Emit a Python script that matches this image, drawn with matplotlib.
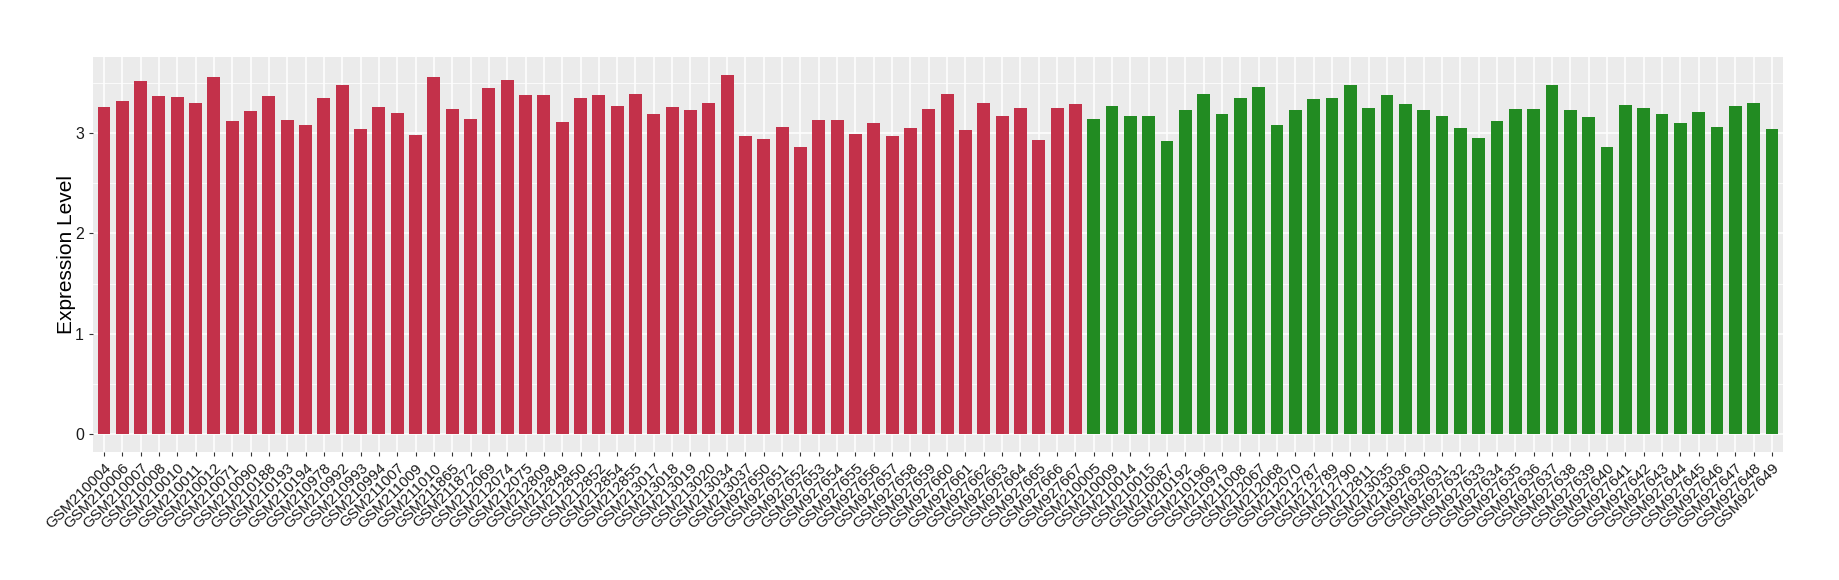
import numpy as np
import matplotlib.pyplot as plt

plt.rcParams['font.family'] = ['Liberation Sans', 'DejaVu Sans']

# Samples (first group red, second group green)
group1_samples = [
    'GSM210004', 'GSM210006', 'GSM210007', 'GSM210008', 'GSM210010', 'GSM210011',
    'GSM210012', 'GSM210071', 'GSM210090', 'GSM210188', 'GSM210193', 'GSM210194',
    'GSM210978', 'GSM210992', 'GSM210993', 'GSM210994', 'GSM211007', 'GSM211009',
    'GSM211010', 'GSM211865', 'GSM211872', 'GSM212069', 'GSM212074', 'GSM212075',
    'GSM212809', 'GSM212849', 'GSM212850', 'GSM212852', 'GSM212854', 'GSM212855',
    'GSM213017', 'GSM213018', 'GSM213019', 'GSM213020', 'GSM213034', 'GSM213037',
    'GSM927650', 'GSM927651', 'GSM927652', 'GSM927653', 'GSM927654', 'GSM927655',
    'GSM927656', 'GSM927657', 'GSM927658', 'GSM927659', 'GSM927660', 'GSM927661',
    'GSM927662', 'GSM927663', 'GSM927664', 'GSM927665', 'GSM927666', 'GSM927667',
]
group1_values = [
    3.26, 3.32, 3.52, 3.37, 3.36, 3.30, 3.56, 3.12, 3.22, 3.37, 3.13, 3.08,
    3.35, 3.48, 3.04, 3.26, 3.20, 2.98, 3.56, 3.24, 3.14, 3.45, 3.53, 3.38,
    3.38, 3.11, 3.35, 3.38, 3.27, 3.39, 3.19, 3.26, 3.23, 3.30, 3.58, 2.97,
    2.94, 3.06, 2.86, 3.13, 3.13, 2.99, 3.10, 2.97, 3.05, 3.24, 3.39, 3.03,
    3.30, 3.17, 3.25, 2.93, 3.25, 3.29,
]

group2_samples = [
    'GSM210005', 'GSM210009', 'GSM210014', 'GSM210015', 'GSM210087', 'GSM210192',
    'GSM210196', 'GSM210979', 'GSM211008', 'GSM212067', 'GSM212068', 'GSM212070',
    'GSM212787', 'GSM212789', 'GSM212790', 'GSM212811', 'GSM213035', 'GSM213036',
    'GSM927630', 'GSM927631', 'GSM927632', 'GSM927633', 'GSM927634', 'GSM927635',
    'GSM927636', 'GSM927637', 'GSM927638', 'GSM927639', 'GSM927640', 'GSM927641',
    'GSM927642', 'GSM927643', 'GSM927644', 'GSM927645', 'GSM927646', 'GSM927647',
    'GSM927648', 'GSM927649',
]
group2_values = [
    3.14, 3.27, 3.17, 3.17, 2.92, 3.23, 3.39, 3.19, 3.35, 3.46, 3.08, 3.23,
    3.34, 3.35, 3.48, 3.25, 3.38, 3.29, 3.23, 3.17, 3.05, 2.95, 3.12, 3.24,
    3.24, 3.48, 3.23, 3.16, 2.86, 3.28, 3.25, 3.19, 3.10, 3.21, 3.06, 3.27,
    3.30, 3.04,
]

samples = group1_samples + group2_samples
values = group1_values + group2_values
colors = ['#C3314A'] * len(group1_samples) + ['#228B22'] * len(group2_samples)
x = np.arange(1, len(samples) + 1)

fig = plt.figure(figsize=(18.4, 5.8), dpi=100)
ax = fig.add_axes([0.0505, 0.2207, 0.9185, 0.681])
ax.set_facecolor('#EBEBEB')

ax.bar(x, values, width=0.7, color=colors, zorder=3)

ax.set_xlim(0.4, len(samples) + 0.6)
ymax = max(values)
ax.set_ylim(-0.05 * ymax, 1.05 * ymax)

ax.set_yticks([0, 1, 2, 3])
ax.set_yticks([0.5, 1.5, 2.5, 3.5], minor=True)
ax.set_xticks(x)
ax.set_xticklabels(samples, rotation=45, ha='right', va='top',
                   rotation_mode='anchor', fontsize=11, color='#1a1a1a')
ax.tick_params(axis='y', labelsize=11.5, labelcolor='#1a1a1a')
ax.tick_params(axis='both', which='major', length=3, color='#333333', width=0.8)
ax.tick_params(axis='y', which='minor', length=0)

ax.grid(True, which='major', color='white', linewidth=1.1, zorder=0)
ax.grid(True, which='minor', axis='y', color='white', linewidth=0.55, zorder=0)
ax.set_axisbelow(True)
for s in ax.spines.values():
    s.set_visible(False)

ax.set_ylabel('Expression Level', fontsize=15, labelpad=-1)

fig.savefig('out.png', dpi=100)
